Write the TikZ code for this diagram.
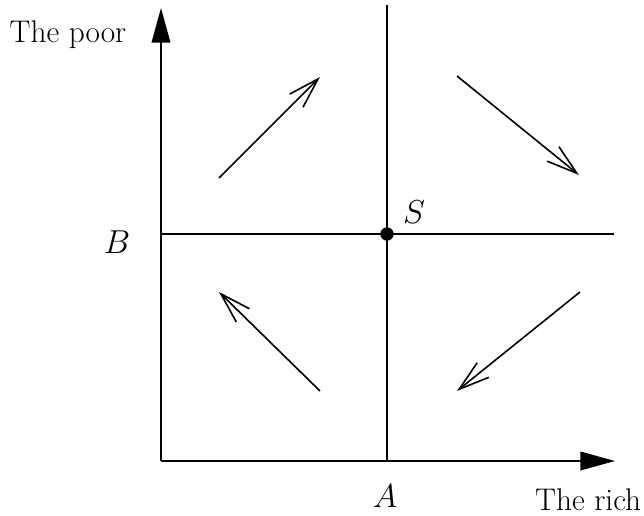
\documentclass[tikz,border=0pt]{standalone}
\usetikzlibrary{arrows.meta}
\begin{document}
\begin{tikzpicture}[x=0.75pt,y=-0.75pt,
  line width=1.2pt,
  axis/.style={-{Triangle[length=26pt,width=14pt]}},
  flow/.style={-{Straight Barb[length=23pt,width=14pt,line width=1.2pt]}},
  lbl/.style={font=\fontsize{23.5}{28}\selectfont, inner sep=0pt}]
\useasboundingbox (0,0) rectangle (644,516);
\coordinate (O) at (161,461);
\coordinate (Ytop) at (161,8);
\coordinate (Xend) at (615,461);
\coordinate (Vtop) at (387,5);
\coordinate (Vbot) at (387,461);
\coordinate (Hl) at (161,234);
\coordinate (Hr) at (614,234);
\draw[axis] (O) -- (Ytop);
\draw[axis] (O) -- (Xend);
\draw (Vtop) -- (Vbot);
\draw (Hl) -- (Hr);
\node[circle, fill, inner sep=0pt, minimum size=10pt] (S) at (387,234) {};
\coordinate (a1s) at (219,178); \coordinate (a1e) at (320,77);
\coordinate (a2s) at (457,76); \coordinate (a2e) at (579,175);
\coordinate (a3s) at (580,292); \coordinate (a3e) at (457,391);
\coordinate (a4s) at (320,391); \coordinate (a4e) at (219,292);
\draw[flow] (a1s) -- (a1e);
\draw[flow] (a2s) -- (a2e);
\draw[flow] (a3s) -- (a3e);
\draw[flow] (a4s) -- (a4e);
\node[lbl] (poor) at (68,35) {The poor};
\node[lbl] (B) at (117,242) {$B$};
\node[lbl] (Sl) at (414,212) {$S$};
\node[lbl] (A) at (385,496) {$A$};
\node[lbl, anchor=east] (rich) at (642,500) {The rich};
\end{tikzpicture}
\end{document}
